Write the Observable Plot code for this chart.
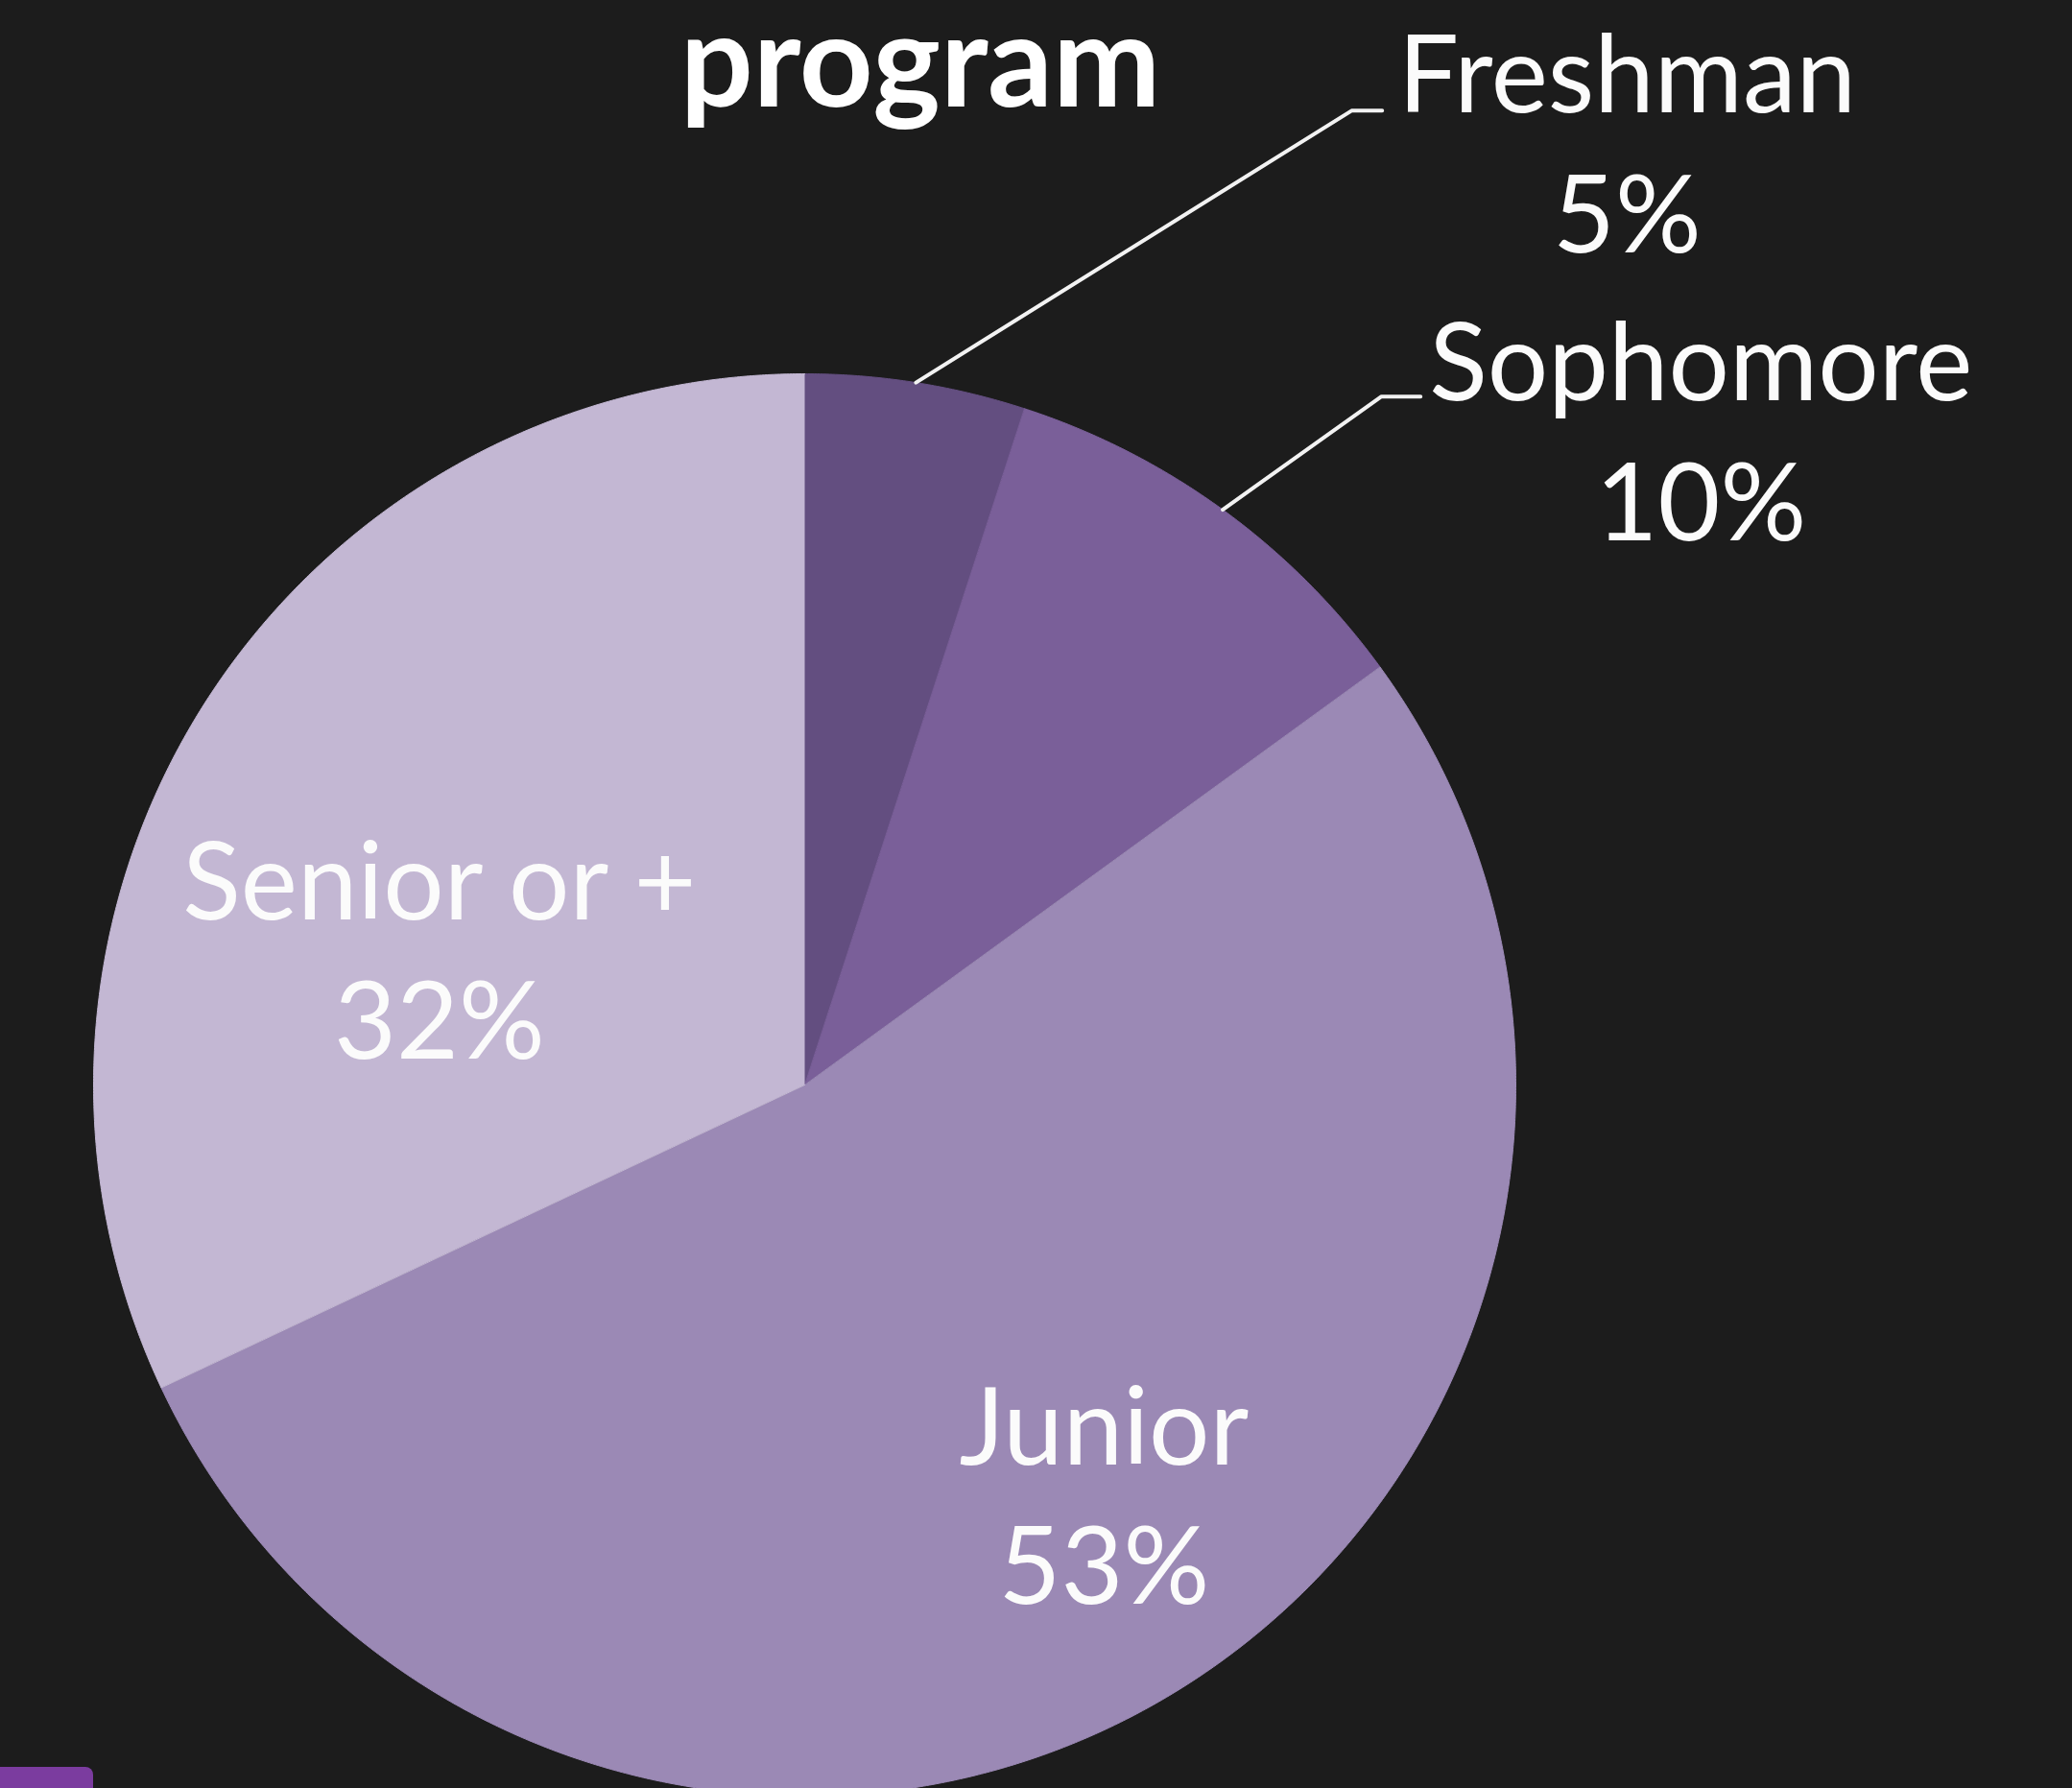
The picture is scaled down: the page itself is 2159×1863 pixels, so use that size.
<!DOCTYPE html>
<html>
<head>
<meta charset="utf-8">
<script src="https://cdn.jsdelivr.net/npm/d3@7"></script>
<script src="https://cdn.jsdelivr.net/npm/@observablehq/plot@0.6"></script>
<style>
  html, body { margin: 0; padding: 0; background: #1c1c1c; overflow: hidden; }
  #wrap { position: relative; width: 2159px; height: 1863px; overflow: hidden; }
  #title { position: absolute; left: 0; width: 1918px; top: 6px; margin: 0; text-align: center;
           font-family: Lato, "Open Sans", sans-serif; font-weight: 700; font-size: 134px; line-height: 0.8;
           color: #ffffff; }
  #tab { position: absolute; left: 0; top: 1841px; width: 97px; height: 40px; background: #7b3c9f;
         border-top-right-radius: 8px; }
  svg { display: block; }
</style>
</head>
<body>
<div id="wrap">
  <div id="chart"></div>
  <h1 id="title">program</h1>
  <div id="tab"></div>
</div>
<script>
// ---- data ----
const categories = ["Freshman", "Sophomore", "Junior", "Senior or +"];
const shares = [5, 10, 53, 32];               // percent of students
const sliceColors = ["#634e80", "#7a5f99", "#9b89b5", "#c3b7d3"];

// ---- layout (label placement, in pie-radius units / degrees clockwise from 12 o'clock) ----
const labelPlacement = {
  "Freshman":    {angle: 44.63, radius: 1.646},
  "Sophomore":   {angle: 58.69, radius: 1.475},
  "Junior":      {angle: 150.0, radius: 0.842},
  "Senior or +": {angle: 274.2, radius: 0.515}
};
const leaderPlacement = {
  "Freshman":  {elbow: [0.769, 1.370], end: [0.812, 1.370]},
  "Sophomore": {elbow: [0.811, 0.968], end: [0.866, 0.968]}
};

const rad = Math.PI / 180;
const pie = d3.pie().sort(null).value(d => d.value);
const rows = categories.map((c, i) => ({name: c, value: shares[i], color: sliceColors[i]}));
const arcs = pie(rows);

// slice outlines (center + arc) in radius units, y up
const slicePts = [];
for (const a of arcs) {
  slicePts.push({name: a.data.name, color: a.data.color, x: 0, y: 0});
  const n = Math.max(2, Math.ceil((a.endAngle - a.startAngle) / (0.25 * rad)));
  for (let k = 0; k <= n; ++k) {
    const t = a.startAngle + (a.endAngle - a.startAngle) * k / n;
    slicePts.push({name: a.data.name, color: a.data.color, x: Math.sin(t), y: Math.cos(t)});
  }
}

const labels = arcs.map(a => {
  const p = labelPlacement[a.data.name];
  return {
    text: `${a.data.name}\n${a.data.value}%`,
    x: p.radius * Math.sin(p.angle * rad),
    y: p.radius * Math.cos(p.angle * rad)
  };
});

const leaderPts = [];
for (const a of arcs) {
  const L = leaderPlacement[a.data.name];
  if (!L) continue;
  const mid = (a.startAngle + a.endAngle) / 2;
  leaderPts.push({name: a.data.name, x: Math.sin(mid), y: Math.cos(mid)});
  leaderPts.push({name: a.data.name, x: L.elbow[0], y: L.elbow[1]});
  leaderPts.push({name: a.data.name, x: L.end[0], y: L.end[1]});
}

const chart = Plot.plot({
  width: 2159,
  height: 1863,
  margin: 0,
  style: {background: "#1c1c1c", overflow: "visible"},
  x: {domain: [-1, 1], range: [97, 1579], axis: null},
  y: {domain: [-1, 1], range: [1871, 389], axis: null},
  color: {type: "identity"},
  marks: [
    Plot.line(slicePts, {x: "x", y: "y", z: "name", fill: "color", stroke: "color", strokeWidth: 1, curve: "linear"}),
    Plot.line(leaderPts, {x: "x", y: "y", z: "name", stroke: "#f2f2f2", strokeWidth: 4}),
    Plot.text(labels, {
      x: "x", y: "y", text: "text", fill: "#fbfbfb", fontSize: 112, fontFamily: "Lato",
      textAnchor: "middle", lineAnchor: "bottom", lineHeight: 1.295
    })
  ]
});
document.getElementById("chart").appendChild(chart);
</script>
</body>
</html>
